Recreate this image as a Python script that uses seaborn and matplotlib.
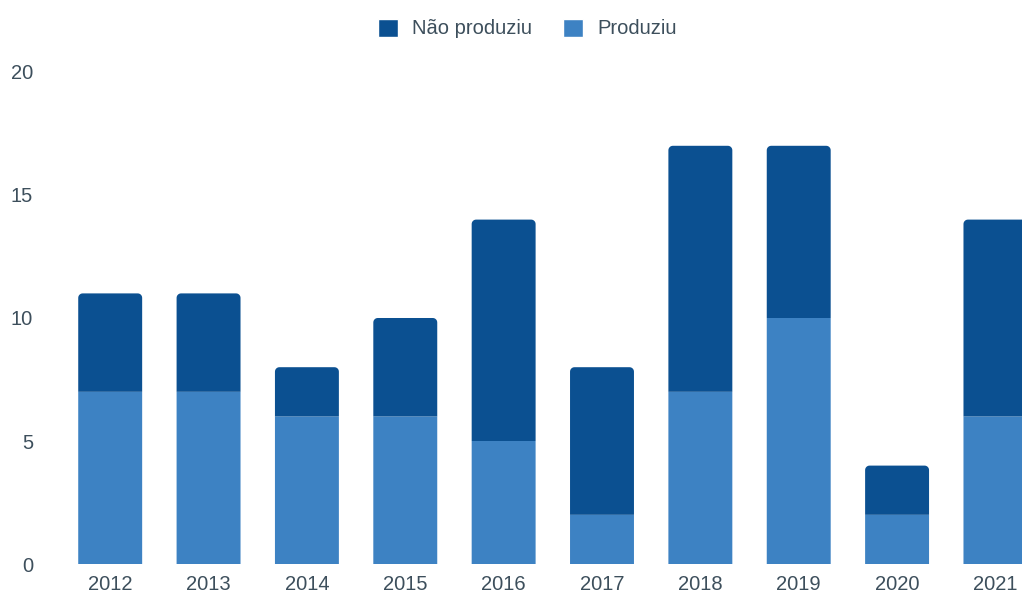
import numpy as np
import pandas as pd
import seaborn as sns
import matplotlib.pyplot as plt
from matplotlib.patches import Patch, Polygon

# dados
anos = ['2012', '2013', '2014', '2015', '2016', '2017', '2018', '2019', '2020', '2021']
produziu = [7, 7, 6, 6, 5, 2, 7, 10, 2, 6]
nao_produziu = [4, 4, 2, 4, 9, 6, 10, 7, 2, 8]

cor_escura = '#0b5091'
cor_clara = '#3d82c3'
cor_texto = '#3d4f5c'

sns.set_theme(style='white')
plt.rcParams['font.family'] = ['Liberation Sans', 'DejaVu Sans']

df = pd.DataFrame({'ano': anos, 'produziu': produziu, 'nao': nao_produziu})
df['total'] = df['produziu'] + df['nao']

fig = plt.figure(figsize=(10.22, 5.94), dpi=100)
ax = fig.add_axes([0.0597, 0.0505, 0.9403, 0.8283])


def topo_arredondado(x, y0, w, y1, rx=0.045, ry=0.18, n=8):
    # contorno de barra com só os dois cantos de cima arredondados
    t = np.linspace(0, np.pi / 2, n)
    dir_ = np.column_stack([x + w - rx + rx * np.sin(t), y1 - ry + ry * np.cos(t)])[::-1]
    esq = np.column_stack([x + rx - rx * np.sin(t), y1 - ry + ry * np.cos(t)])
    return np.vstack([[x, y0], [x + w, y0], dir_, esq])


# barras empilhadas: total (escuro) e depois a parte que produziu (claro)
sns.barplot(data=df, x='ano', y='total', color=cor_escura, width=0.65,
            saturation=1, linewidth=0, ax=ax)

for p, base in zip(list(ax.patches), df['produziu']):
    x, w = p.get_x(), p.get_width()
    topo = p.get_y() + p.get_height()
    p.remove()
    ax.add_patch(Polygon(topo_arredondado(x, base, w, topo), closed=True,
                         facecolor=cor_escura, edgecolor='none', zorder=2))

sns.barplot(data=df, x='ano', y='produziu', color=cor_clara, width=0.65,
            saturation=1, linewidth=0, ax=ax)
for p in ax.patches:
    p.set_snap(False)

ax.set_xlim(-0.5, 9.27)
ax.set_ylim(0, 20)
ax.set_yticks([0, 5, 10, 15, 20])
ax.set_xlabel('')
ax.set_ylabel('')
sns.despine(ax=ax, left=True, bottom=True)
ax.tick_params(axis='both', length=0, labelsize=14.5, colors=cor_texto)
ax.tick_params(axis='y', pad=20)
ax.tick_params(axis='x', pad=8)
for lbl in ax.get_yticklabels():
    lbl.set_horizontalalignment('right')

handles = [Patch(facecolor=cor_escura, label='Não produziu'),
           Patch(facecolor=cor_clara, label='Produziu')]
leg = fig.legend(handles=handles, loc='center', bbox_to_anchor=(0.516, 0.952),
                 ncol=2, frameon=False, fontsize=14.5, handlelength=1.0,
                 handleheight=1.0, handletextpad=0.7, columnspacing=1.5)
for t in leg.get_texts():
    t.set_color(cor_texto)

fig.savefig('out.png', dpi=100)
